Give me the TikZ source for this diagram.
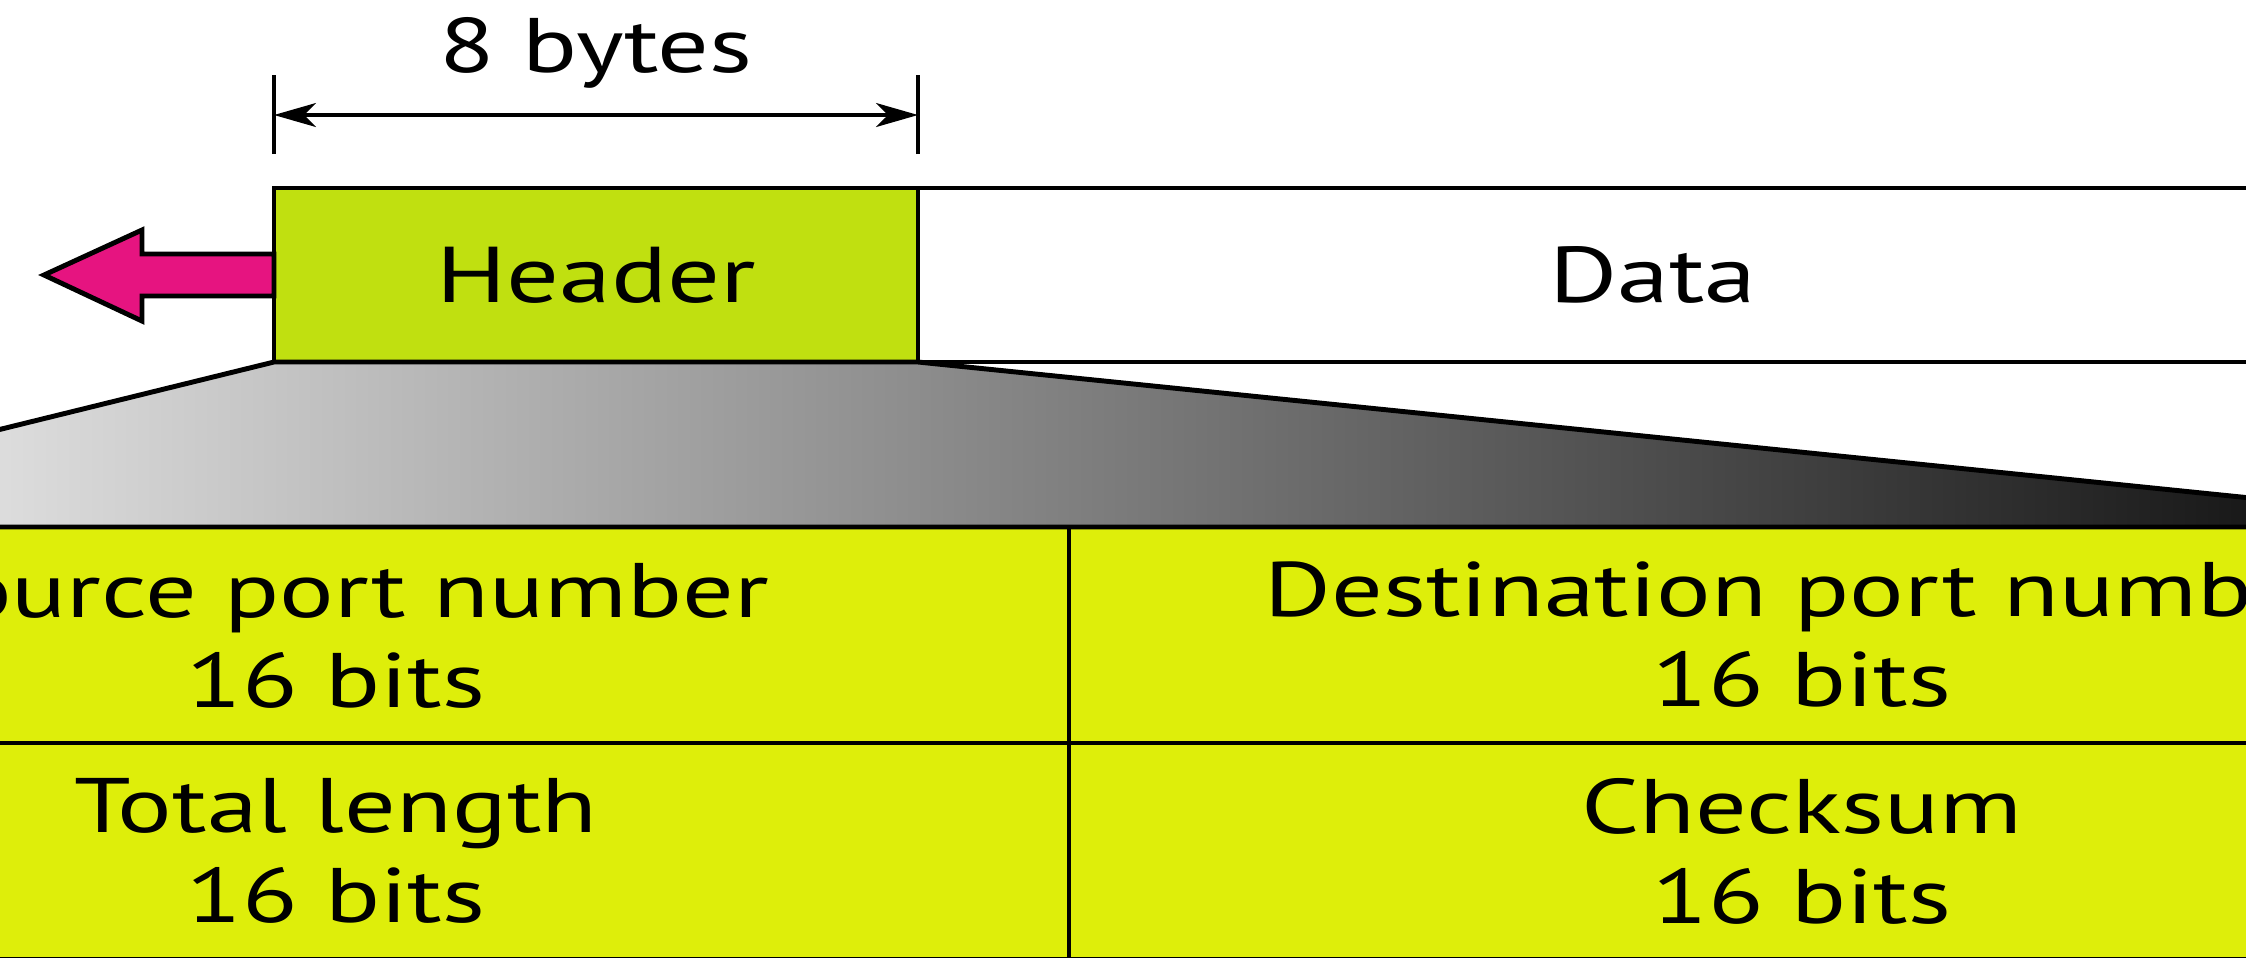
\documentclass[tikz,border=0pt]{standalone}
\usepackage{fontspec}
\setmainfont{PT Sans}[FakeStretch=1.32]
\usetikzlibrary{calc,arrows.meta}

\definecolor{hdrgreen}{RGB}{192,224,16}
\definecolor{cellyellow}{RGB}{222,238,10}
\definecolor{arrowpink}{RGB}{230,20,128}

\tikzset{
  box/.style={draw=black, line width=1.4pt, inner sep=0pt, outer sep=0pt},
  seg/.style={box, minimum height=1.74cm, font=\fontsize{22.5}{27}\selectfont},
  field/.style={box, fill=cellyellow, minimum width=14.66cm, minimum height=2.16cm,
    align=center, font=\fontsize{22}{25.6}\selectfont},
  dim/.style={line width=0.9pt},
}

\begin{document}
\begin{tikzpicture}
  %%%%% START %%%%%
  \useasboundingbox (0,0) rectangle (22.46,-9.57);
  \clip (0,0) rectangle (22.46,-9.57);

  % user datagram
  \node[seg, fill=hdrgreen, minimum width=6.44cm] (header) at (5.96,-2.75) {Header};
  \node[seg, fill=white, minimum width=14.70cm, anchor=west] (data) at (header.east) {Data};

  % header fields
  \node[field, anchor=north west] (src) at (-3.97,-5.27) {Source port number\\16 bits};
  \node[field, anchor=west] (dst) at (src.east) {Destination port number\\16 bits};
  \node[field, anchor=north] (len) at (src.south) {Total length\\16 bits};
  \node[field, anchor=north] (chk) at (dst.south) {Checksum\\16 bits};

  % zoom from header to fields
  \shadedraw[left color=white, right color=black, line width=1.4pt]
    (header.south west) -- (src.north west) -- (dst.north east) -- (header.south east) -- cycle;

  % direction arrow
  \draw[fill=arrowpink, line width=1.4pt, line join=miter] (header.west) ++(0,0.21) -- (1.42,-2.54) -- (1.42,-2.30)
    -- (0.44,-2.75) -- (1.42,-3.21) -- (1.42,-2.96) -- ($(header.west)+(0,-0.21)$) -- cycle;

  % size of header
  \draw[dim] ($(header.north west)+(0,0.34)$) -- ($(header.north west)+(0,1.13)$);
  \draw[dim] ($(header.north east)+(0,0.34)$) -- ($(header.north east)+(0,1.13)$);
  \draw[dim, {Stealth[length=0.42cm, width=0.24cm, inset=0.12cm]}-{Stealth[length=0.42cm, width=0.24cm, inset=0.12cm]}]
    ($(header.north west)+(0,0.73)$) -- ($(header.north east)+(0,0.73)$);
  \node[anchor=base, font=\fontsize{22}{26}\selectfont] (size) at (5.96,-0.72) {8 bytes};

  %%%%% END %%%%%
\end{tikzpicture}
\end{document}
